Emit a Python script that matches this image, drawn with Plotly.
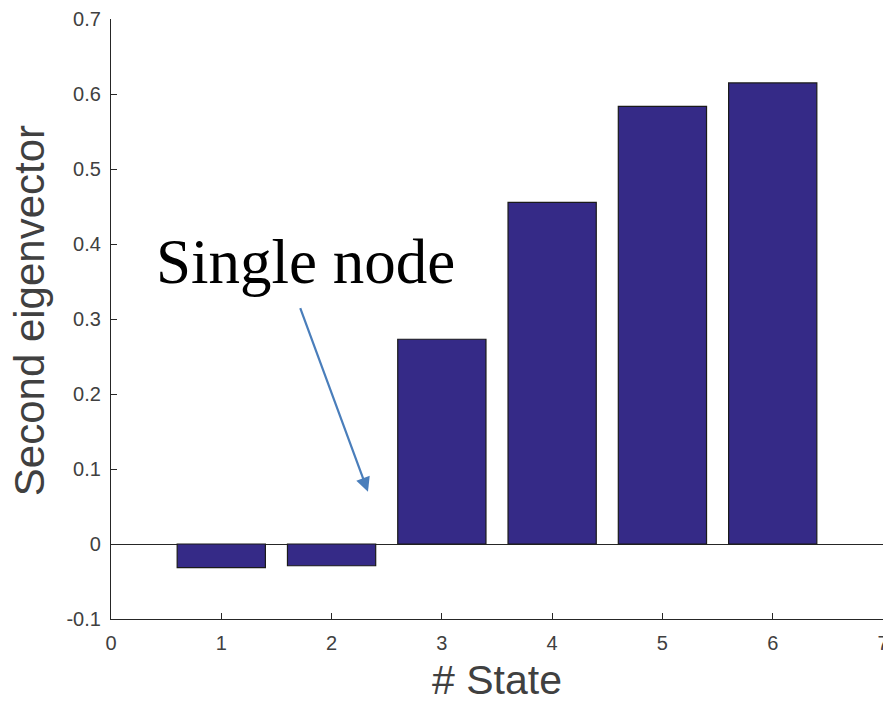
import plotly.graph_objects as go

states = [1, 2, 3, 4, 5, 6]
eigvec = [-0.0316, -0.029, 0.273, 0.4556, 0.5836, 0.6147]
x_ticks = [0, 1, 2, 3, 4, 5, 6, 7]
y_ticks = [-0.1, 0, 0.1, 0.2, 0.3, 0.4, 0.5, 0.6, 0.7]
y_tick_text = ["-0.1", "0", "0.1", "0.2", "0.3", "0.4", "0.5", "0.6", "0.7"]

axis_color = "#262626"
label_color = "#404040"

fig = go.Figure()
fig.add_trace(go.Bar(
    x=states, y=eigvec, width=0.8,
    marker=dict(color="#352A87", line=dict(color="#1a1a1a", width=1.2)),
    showlegend=False,
))

fig.update_layout(
    width=883, height=703,
    margin=dict(l=111, r=0, t=19, b=84, autoexpand=False),
    paper_bgcolor="white", plot_bgcolor="white",
    font=dict(family="Liberation Sans, Arial", color=label_color),
    xaxis=dict(
        range=[0, 7], tickvals=x_ticks, ticktext=[str(v) for v in x_ticks],
        showgrid=False, zeroline=False, showline=True, linecolor=axis_color, linewidth=1.3,
        ticks="inside", ticklen=6, tickcolor=axis_color, tickwidth=1.3,
        tickfont=dict(size=20, color=label_color), ticklabelstandoff=6,
        ticklabeloverflow="allow", automargin=False,
        title=dict(text="# State", font=dict(size=41, color=label_color), standoff=20),
    ),
    yaxis=dict(
        range=[-0.1, 0.7], tickvals=y_ticks, ticktext=y_tick_text,
        showgrid=False, zeroline=True, zerolinecolor=axis_color, zerolinewidth=1.3,
        showline=True, linecolor=axis_color, linewidth=1.3,
        ticks="inside", ticklen=6, tickcolor=axis_color, tickwidth=1.3,
        tickfont=dict(size=20, color=label_color), ticklabelstandoff=5,
        automargin=False,
    ),
    bargap=0.2,
)

# y-axis title placed as a rotated annotation to match its position
fig.add_annotation(
    x=-0.1062, y=0.513, xref="paper", yref="paper",
    text="Second eigenvector", textangle=-90, showarrow=False,
    xanchor="center", yanchor="middle",
    font=dict(family="Liberation Sans, Arial", size=42, color=label_color),
)

fig.add_annotation(
    x=1.765, y=0.376, xref="x", yref="y",
    text="Single node", showarrow=False,
    font=dict(family="Liberation Serif, Times New Roman", size=63, color="black"),
)
fig.add_annotation(
    x=2.33, y=0.0697, xref="x", yref="y",
    ax=1.711, ay=0.3164, axref="x", ayref="y",
    text="", showarrow=True, arrowhead=2, arrowsize=1.3, arrowwidth=2.2,
    arrowcolor="#4A7EBB",
)

fig.write_html("out.html")
